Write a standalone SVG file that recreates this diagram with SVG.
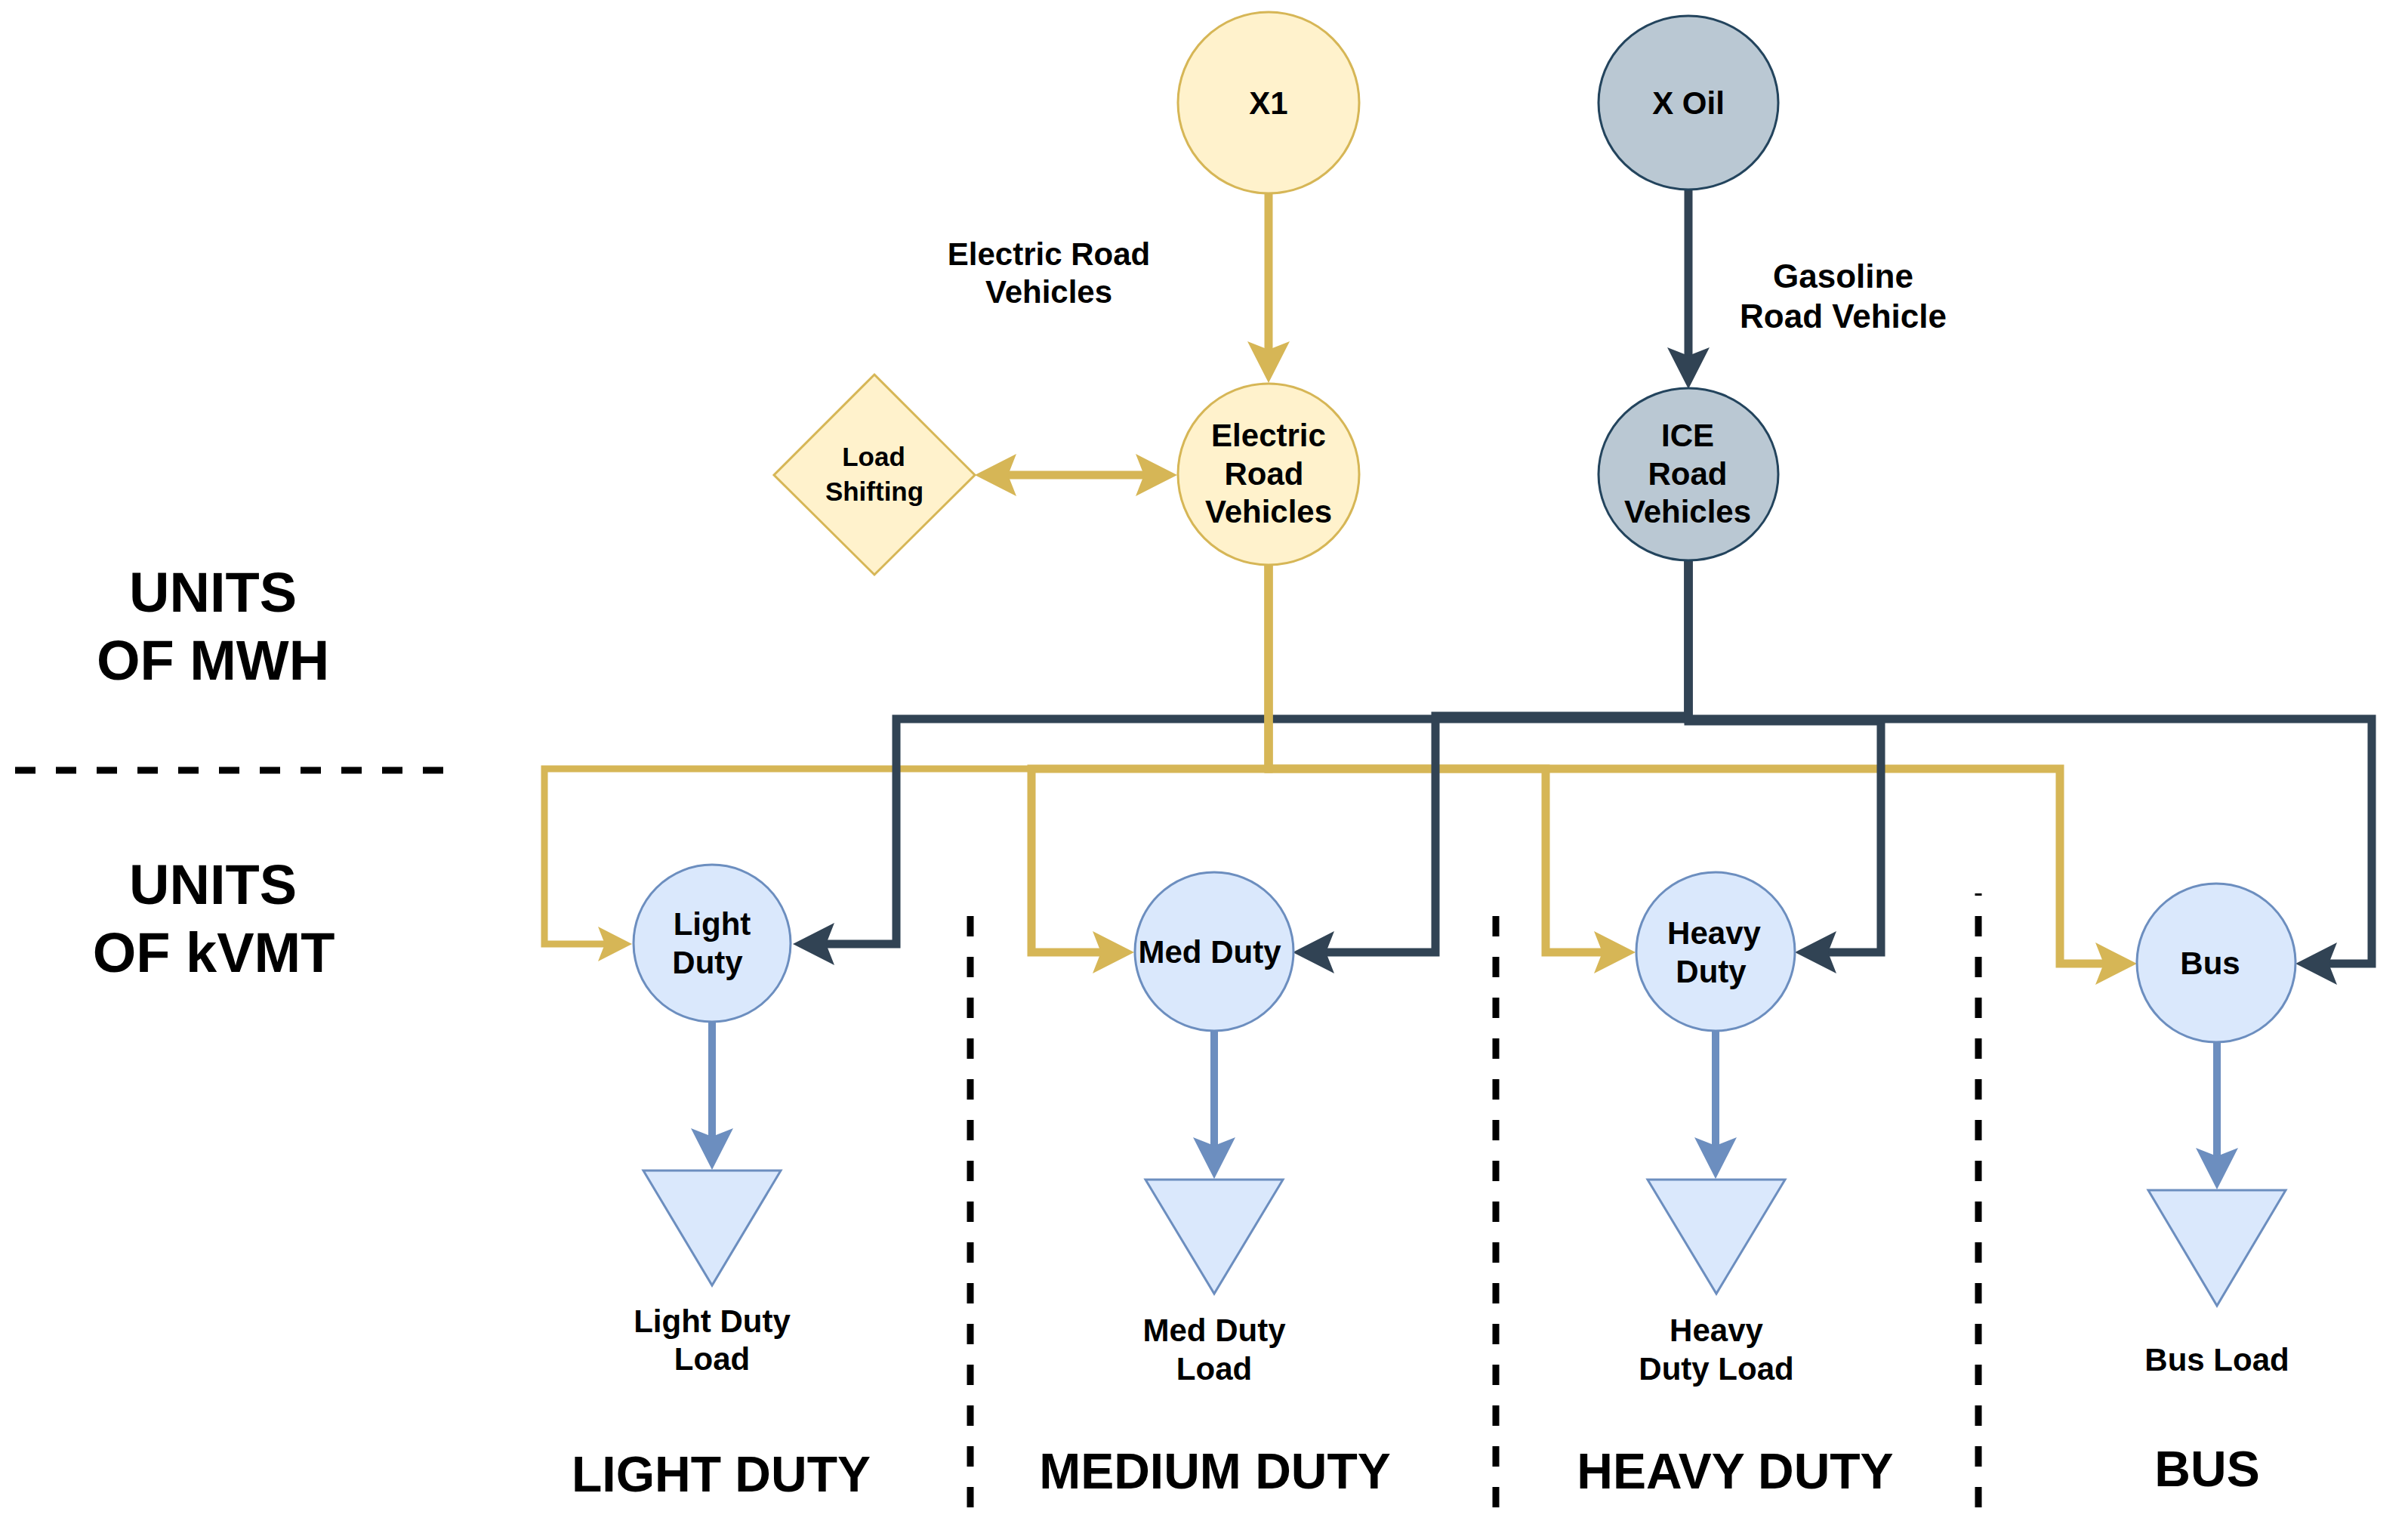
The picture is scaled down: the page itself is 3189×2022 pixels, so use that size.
<svg xmlns="http://www.w3.org/2000/svg" width="3189" height="2022" viewBox="0 0 3189 2022">
<style>
text{font-family:"Liberation Sans",Arial,Helvetica,sans-serif;font-weight:bold;fill:#000;text-anchor:middle}
.n42{font-size:42px}
.n44{font-size:44px}
.n35{font-size:35px}
.big{font-size:74px}
.title{font-size:66px}
.yel{fill:#fff2cc;stroke:#d6b656;stroke-width:3}
.gry{fill:#bac8d3;stroke:#23445d;stroke-width:3}
.blu{fill:#dae8fc;stroke:#6c8ebf;stroke-width:3}
.ey{fill:none;stroke:#d6b656;stroke-width:11;stroke-linejoin:miter}
.eys{fill:none;stroke:#d6b656;stroke-width:9;stroke-linejoin:miter}
.ed{fill:none;stroke:#314354;stroke-width:11;stroke-linejoin:miter}
.eb{fill:none;stroke:#6c8ebf;stroke-width:10}
.dash{fill:none;stroke:#000;stroke-width:9;stroke-dasharray:27 27}
</style>
<defs>
<marker id="arrY" viewBox="0 0 55 56" markerWidth="55" markerHeight="56" refX="11" refY="28" orient="auto-start-reverse" markerUnits="userSpaceOnUse"><path d="M0,0 L55,28 L0,56 L11,28 Z" fill="#d6b656"/></marker>
<marker id="arrYs" viewBox="0 0 45 46" markerWidth="45" markerHeight="46" refX="9" refY="23" orient="auto" markerUnits="userSpaceOnUse"><path d="M0,0 L45,23 L0,46 L9,23 Z" fill="#d6b656"/></marker>
<marker id="arrD" viewBox="0 0 55 56" markerWidth="55" markerHeight="56" refX="11" refY="28" orient="auto" markerUnits="userSpaceOnUse"><path d="M0,0 L55,28 L0,56 L11,28 Z" fill="#314354"/></marker>
<marker id="arrB" viewBox="0 0 55 56" markerWidth="55" markerHeight="56" refX="11" refY="28" orient="auto" markerUnits="userSpaceOnUse"><path d="M0,0 L55,28 L0,56 L11,28 Z" fill="#6c8ebf"/></marker>
</defs>
<rect width="3189" height="2022" fill="#fff"/>

<g id="separators">
<line class="dash" x1="20" y1="1020" x2="590" y2="1020"/>
<line class="dash" x1="1285" y1="1213" x2="1285" y2="1996"/>
<line class="dash" x1="1981" y1="1213" x2="1981" y2="1996"/>
<line class="dash" x1="2620" y1="1183" x2="2620" y2="1996" stroke-dashoffset="24"/>
</g>

<g id="connectors">
<path class="ey" d="M1680,256 L1680,463" marker-end="url(#arrY)"/>
<path class="ed" d="M2236,250 L2236,471" marker-end="url(#arrD)"/>
<path class="ey" d="M1335,629 L1515,629" stroke-width="12" marker-start="url(#arrY)" marker-end="url(#arrY)"/>
<path class="eys" d="M1680,749 L1680,1018 L721,1018 L721,1250 L801,1250" marker-end="url(#arrYs)"/>
<path class="ed" d="M2236,742 L2236,952 L1187,952 L1187,1250 L1094,1250" marker-end="url(#arrD)"/>
<path class="ey" d="M1680,749 L1680,1018 L1366,1018 L1366,1261 L1458,1261" marker-end="url(#arrY)"/>
<path class="ey" d="M1680,749 L1680,1018 L2047,1018 L2047,1261 L2122,1261" marker-end="url(#arrY)"/>
<path class="ey" d="M1680,749 L1680,1018 L2728,1018 L2728,1276 L2786,1276" marker-end="url(#arrY)"/>
<path class="ed" d="M2236,742 L2236,948 L1901,948 L1901,1261 L1756,1261" marker-end="url(#arrD)"/>
<path class="ed" d="M2236,742 L2236,955 L2491,955 L2491,1261 L2421,1261" marker-end="url(#arrD)"/>
<path class="ed" d="M2236,742 L2236,952 L3141,952 L3141,1276 L3084,1276" marker-end="url(#arrD)"/>
<path class="eb" d="M943,1354 L943,1505" marker-end="url(#arrB)"/>
<path class="eb" d="M1608,1366 L1608,1517" marker-end="url(#arrB)"/>
<path class="eb" d="M2272,1365 L2272,1517" marker-end="url(#arrB)"/>
<path class="eb" d="M2936,1380 L2936,1531" marker-end="url(#arrB)"/>
</g>

<g id="edge-labels">
<text class="n42" x="1389" y="351">Electric Road</text>
<text class="n42" x="1389" y="401">Vehicles</text>
<text class="n44" x="2441" y="381">Gasoline</text>
<text class="n44" x="2441" y="434">Road Vehicle</text>
</g>

<g id="node-x1"><circle class="yel" cx="1680" cy="136" r="120"/><text class="n42" x="1680" y="151">X1</text></g>
<g id="node-xoil"><ellipse class="gry" cx="2236" cy="136" rx="119" ry="115"/><text class="n42" x="2236" y="151">X Oil</text></g>
<g id="node-erv"><circle class="yel" cx="1680" cy="628" r="120"/>
<text class="n42" x="1680" y="591">Electric</text><text class="n42" x="1674" y="642">Road</text><text class="n42" x="1680" y="692">Vehicles</text></g>
<g id="node-ice"><ellipse class="gry" cx="2236" cy="628" rx="119" ry="114"/>
<text class="n42" x="2235" y="591">ICE</text><text class="n42" x="2235" y="642">Road</text><text class="n42" x="2235" y="692">Vehicles</text></g>
<g id="node-loadshifting"><path class="yel" d="M1158,496 L1291,629 L1158,761 L1025,629 Z"/>
<text class="n35" x="1157" y="617">Load</text><text class="n35" x="1158" y="663">Shifting</text></g>

<g id="node-lightduty"><circle class="blu" cx="943" cy="1249" r="104"/><text class="n42" x="943" y="1238">Light</text><text class="n42" x="937" y="1289">Duty</text></g>
<g id="node-medduty"><circle class="blu" cx="1608" cy="1260" r="105"/><text class="n42" x="1602" y="1275">Med Duty</text></g>
<g id="node-heavyduty"><circle class="blu" cx="2272" cy="1260" r="105"/><text class="n42" x="2270" y="1250">Heavy</text><text class="n42" x="2266" y="1301">Duty</text></g>
<g id="node-bus"><circle class="blu" cx="2935" cy="1275" r="105"/><text class="n42" x="2927" y="1290">Bus</text></g>

<g id="load-lightduty"><path class="blu" d="M852,1550 L1034,1550 L943,1702 Z"/><text class="n42" x="943" y="1764">Light Duty</text><text class="n42" x="943" y="1814">Load</text></g>
<g id="load-medduty"><path class="blu" d="M1517,1562 L1699,1562 L1608,1713 Z"/><text class="n42" x="1608" y="1776">Med Duty</text><text class="n42" x="1608" y="1827">Load</text></g>
<g id="load-heavyduty"><path class="blu" d="M2182,1562 L2364,1562 L2273,1713 Z"/><text class="n42" x="2273" y="1776">Heavy</text><text class="n42" x="2273" y="1827">Duty Load</text></g>
<g id="load-bus"><path class="blu" d="M2845,1576 L3027,1576 L2936,1729 Z"/><text class="n42" x="2936" y="1815">Bus Load</text></g>

<g id="section-labels">
<text class="big" x="282" y="810">UNITS</text>
<text class="big" x="282" y="900">OF MWH</text>
<text class="big" x="282" y="1197">UNITS</text>
<text class="big" x="283" y="1287">OF kVMT</text>
<text class="title" x="955" y="1975">LIGHT DUTY</text>
<text class="title" x="1609" y="1971">MEDIUM DUTY</text>
<text class="title" x="2298" y="1971">HEAVY DUTY</text>
<text class="title" x="2923" y="1968">BUS</text>
</g>
</svg>
